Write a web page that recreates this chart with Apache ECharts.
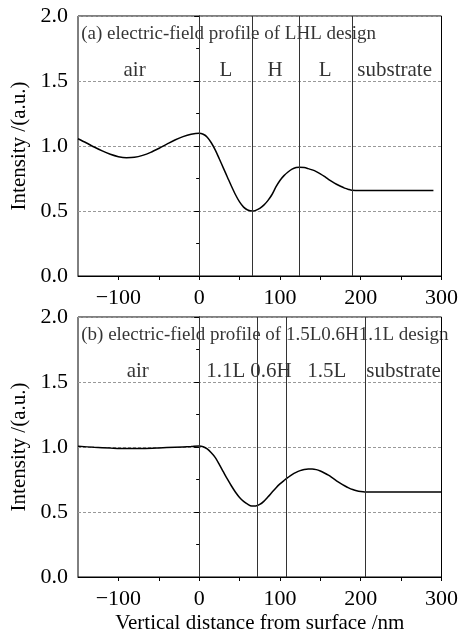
<!DOCTYPE html>
<html>
<head>
<meta charset="utf-8">
<script src="https://cdn.jsdelivr.net/npm/echarts@6/dist/echarts.min.js"></script>
<style>
html,body{margin:0;padding:0;background:#fff;}
#chart{width:461px;height:636px;}
</style>
</head>
<body>
<div id="chart"></div>
<script>
// (a) LHL design: distance /nm and intensity
var xA = [-150,-140,-130,-120,-110,-100,-90,-80,-70,-60,-50,-40,-30,-20,-10,0,5,10,15,20,25,30,35,40,45,50,55,60,66,70,75,80,85,90,95,100,105,110,115,120,124,130,135,140,145,150,155,160,165,170,175,180,185,189,200,290];
var yA = [1.056,1.025,0.992,0.962,0.936,0.918,0.910,0.913,0.928,0.951,0.981,1.014,1.046,1.072,1.090,1.098,1.090,1.068,1.025,0.968,0.900,0.830,0.760,0.690,0.625,0.570,0.530,0.508,0.500,0.505,0.520,0.545,0.580,0.625,0.685,0.735,0.772,0.800,0.822,0.834,0.836,0.834,0.826,0.816,0.803,0.786,0.766,0.744,0.724,0.706,0.690,0.676,0.666,0.660,0.658,0.658];
// (b) 1.5L0.6H1.1L design
var xB = [-150,-130,-110,-90,-70,-50,-30,-10,0,5,10,15,20,25,30,35,40,45,50,55,60,65,70,75,80,85,90,95,100,105,110,115,120,125,130,135,140,145,150,155,160,165,170,175,180,185,190,195,200,205,300];
var yB = [1.005,0.998,0.992,0.988,0.989,0.993,0.998,1.004,1.008,1.002,0.985,0.955,0.918,0.865,0.808,0.752,0.700,0.652,0.612,0.582,0.560,0.546,0.546,0.558,0.582,0.615,0.650,0.685,0.716,0.742,0.766,0.788,0.805,0.818,0.827,0.831,0.831,0.826,0.815,0.800,0.783,0.762,0.740,0.720,0.702,0.686,0.673,0.663,0.657,0.654,0.654];

// layer boundaries
var edgesA = [0, 66, 124, 189];
var edgesB = [0, 72.5, 107.5, 205.5];

// layer names and where they sit
var namesA = ['air','L','H','L','substrate'];
var namePosA = [-80, 33, 94, 156, 242];
var namesB = ['air','1.1L','0.6H','1.5L','substrate'];
var namePosB = [-76, 33, 89, 158, 253];
var nameY = 1.58;

var titleA = '(a) electric-field profile of LHL design';
var titleB = '(b) electric-field profile of 1.5L0.6H1.1L design';
var titleY = 1.865;

var font = '"Liberation Serif","Times New Roman",serif';

function pairs(xs, ys){
  return xs.map(function(x,i){ return [x, ys[i]]; });
}

function xAx(idx, withName){
  return {
    type:'value', gridIndex:idx, min:-150, max:300, interval:50,
    name: withName ? 'Vertical distance from surface /nm' : '',
    nameLocation:'middle', nameGap:36,
    nameTextStyle:{fontFamily:font, fontSize:21, color:'#000'},
    axisLine:{onZero:false, lineStyle:{color:'#000', width:1}},
    axisTick:{length:4, lineStyle:{color:'#000'}},
    axisLabel:{fontFamily:font, fontSize:22, color:'#000', margin:11,
      showMinLabel:false,
      formatter:function(v){ return v % 100 === 0 ? String(v).replace('-', '\u2212') : ''; }},
    splitLine:{show:false}
  };
}
function yAx(idx){
  return {
    type:'value', gridIndex:idx, min:0, max:2, interval:0.5,
    name:'Intensity /(a.u.)', nameLocation:'middle', nameGap:46,
    nameTextStyle:{fontFamily:font, fontSize:21, color:'#000'},
    axisLine:{lineStyle:{color:'#000', width:1}},
    axisTick:{length:5, lineStyle:{color:'#000'}},
    minorTick:{show:true, splitNumber:2, length:3, lineStyle:{color:'#000'}},
    axisLabel:{fontFamily:font, fontSize:22, color:'#000', margin:10,
      formatter:function(v){ return v.toFixed(1); }},
    splitLine:{show:true, lineStyle:{color:'#999', type:[3,2], width:1}}
  };
}

function curve(idx, xs, ys, edges, names, pos, title){
  return [
    {
      type:'line', xAxisIndex:idx, yAxisIndex:idx, data:pairs(xs, ys),
      smooth:0.3, showSymbol:false, lineStyle:{color:'#000', width:1.5},
      markLine:{silent:true, symbol:['none','none'],
        lineStyle:{color:'#333', type:'solid', width:1}, label:{show:false},
        data:edges.map(function(e){ return {xAxis:e}; })},
      z:3
    },
    {
      type:'scatter', xAxisIndex:idx, yAxisIndex:idx, symbolSize:0, silent:true,
      data:names.map(function(n,i){ return {value:[pos[i], nameY], name:n}; }),
      label:{show:true, position:'inside', formatter:'{b}',
        fontFamily:font, fontSize:21, color:'#000'},
      z:4
    },
    {
      type:'scatter', xAxisIndex:idx, yAxisIndex:idx, symbolSize:0, silent:true,
      data:[{value:[-146, titleY], name:title}],
      label:{show:true, position:'right', distance:0, formatter:'{b}',
        fontFamily:font, fontSize:19, color:'#000'},
      z:4
    }
  ];
}

var chart = echarts.init(document.getElementById('chart'));
chart.setOption({
  backgroundColor:'#fff',
  animation:false,
  grid:[
    {left:78, top:16, width:366, height:260, show:true, borderColor:'#000', borderWidth:1},
    {left:78, top:317, width:366, height:260, show:true, borderColor:'#000', borderWidth:1}
  ],
  xAxis:[xAx(0,false), xAx(1,true)],
  yAxis:[yAx(0), yAx(1)],
  series: curve(0, xA, yA, edgesA, namesA, namePosA, titleA)
    .concat(curve(1, xB, yB, edgesB, namesB, namePosB, titleB))
});
</script>
</body>
</html>
